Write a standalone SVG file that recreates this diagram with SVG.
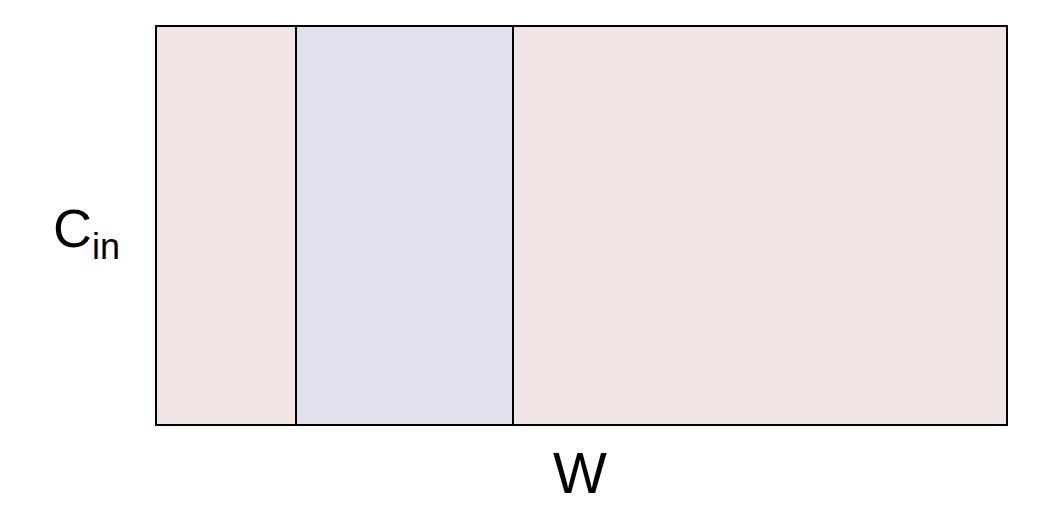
<svg xmlns="http://www.w3.org/2000/svg" width="1056" height="522" viewBox="0 0 1056 522">
<style>
.box{stroke:#000;stroke-width:2}
.lbl{font-family:"Liberation Sans",Arial,sans-serif;fill:#000}
</style>
<rect width="1056" height="522" fill="#fff"/>
<g id="tensor">
<rect class="box" x="156" y="26" width="851" height="399" fill="#f2e4e4"/>
</g>
<g id="slice">
<rect class="box" x="296" y="26" width="217" height="399" fill="#e0e0ee"/>
</g>
<g id="label-cin">
<text class="lbl" x="53" y="247" font-size="54">C<tspan font-size="36" dy="12">in</tspan></text>
</g>
<g id="label-w">
<text class="lbl" x="553" y="493" font-size="57">W</text>
</g>
<g id="connectors"/>
</svg>
